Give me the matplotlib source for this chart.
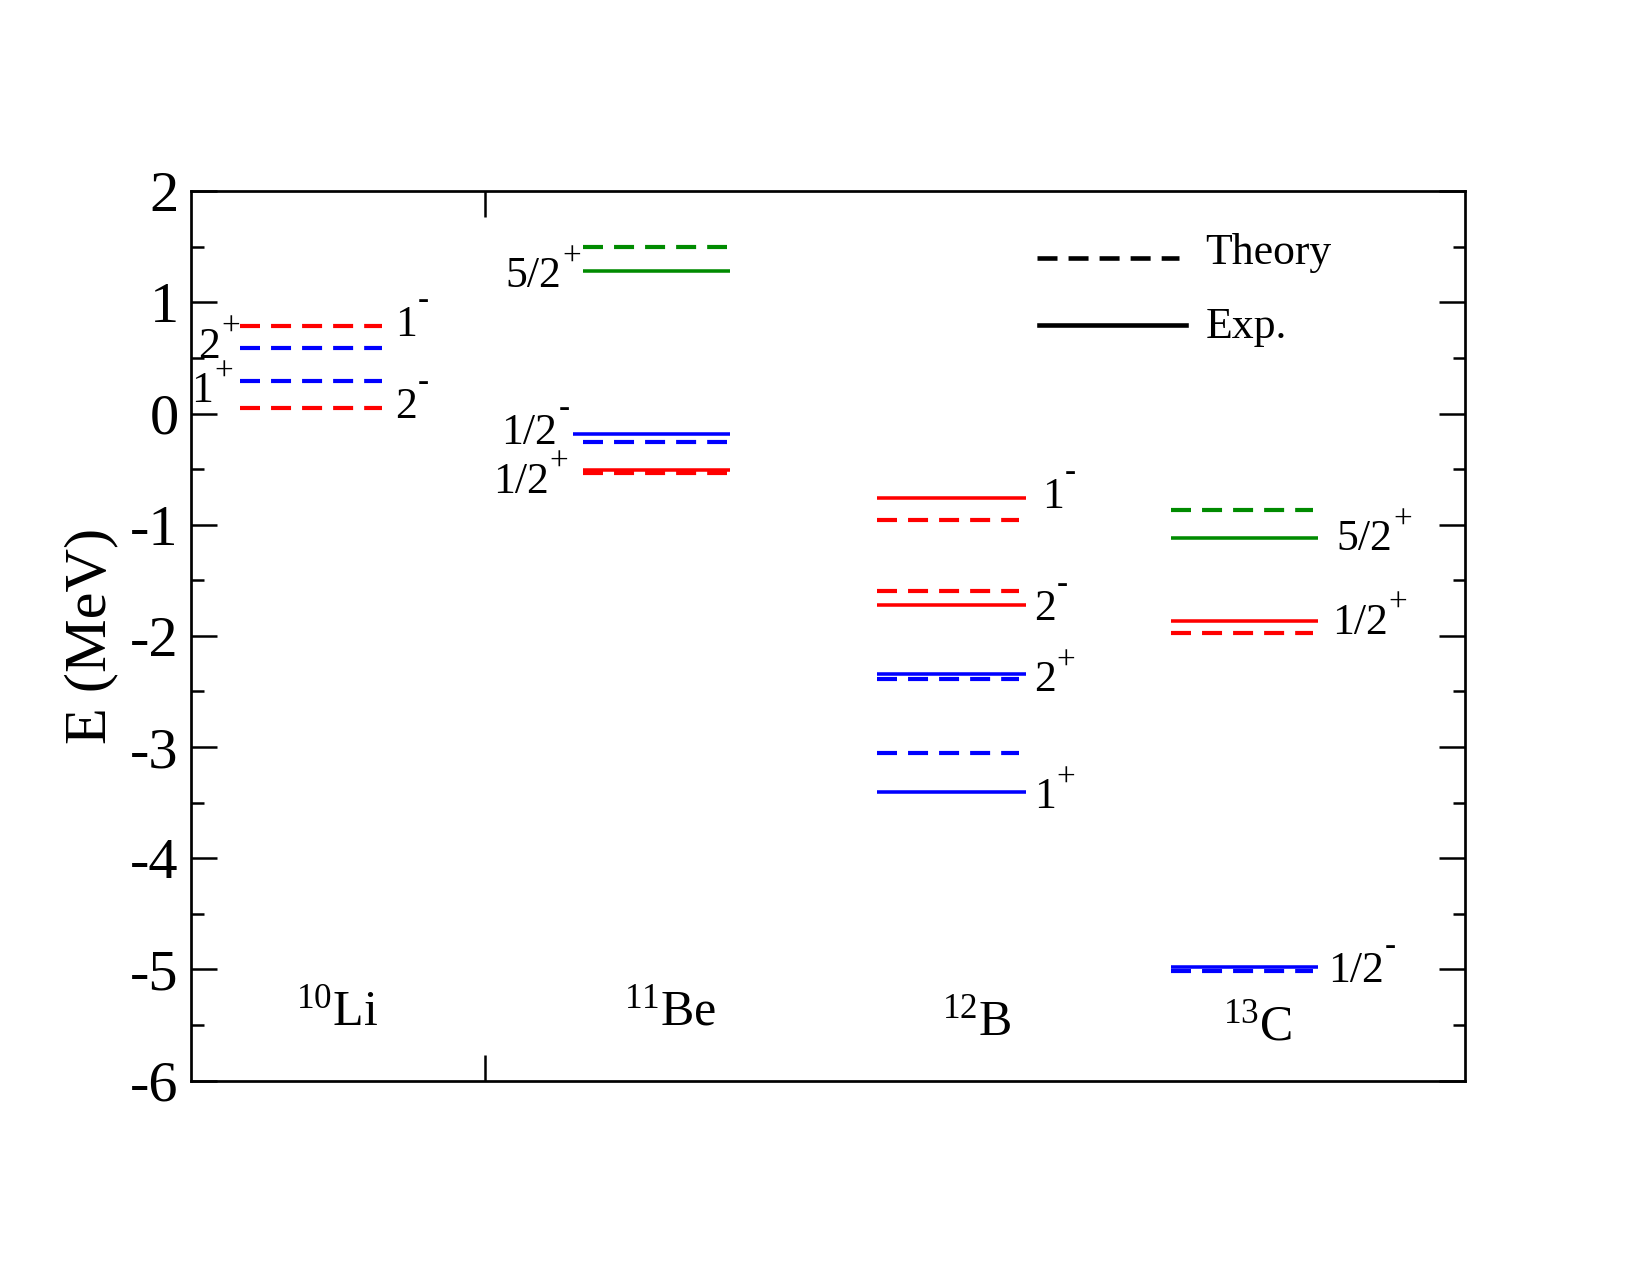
import matplotlib
matplotlib.use("Agg")
import matplotlib.pyplot as plt
from matplotlib.transforms import offset_copy

plt.rcParams['font.family'] = ['Liberation Serif', 'DejaVu Serif']
plt.rcParams['mathtext.fontset'] = 'custom'
plt.rcParams['mathtext.rm'] = 'Liberation Serif'
plt.rcParams['mathtext.it'] = 'Liberation Serif:italic'
plt.rcParams['mathtext.bf'] = 'Liberation Serif:bold'
plt.rcParams['axes.unicode_minus'] = False
plt.rcParams['lines.scale_dashes'] = False

# ---------------- data ----------------
nuclei = [r'$^{10}$Li', r'$^{11}$Be', r'$^{12}$B', r'$^{13}$C']

li_spin = ['1', '2', '1', '2']
li_parity = ['-', '+', '+', '-']
li_theory = [0.79, 0.59, 0.29, 0.05]
li_exp = [None, None, None, None]

be_spin = ['5/2', '1/2', '1/2']
be_parity = ['+', '-', '+']
be_theory = [1.50, -0.26, -0.535]
be_exp = [1.28, -0.18, -0.505]

b_spin = ['1', '2', '2', '1']
b_parity = ['-', '-', '+', '+']
b_theory = [-0.96, -1.60, -2.39, -3.05]
b_exp = [-0.76, -1.72, -2.34, -3.40]

c_spin = ['5/2', '1/2', '1/2']
c_parity = ['+', '+', '-']
c_theory = [-0.865, -1.97, -5.01]
c_exp = [-1.12, -1.87, -4.98]

y_ticks = [2, 1, 0, -1, -2, -3, -4, -5, -6]

# ---------------- styles / layout ----------------
RED, BLUE, GREEN = '#ff0000', '#0000ff', '#008b00'
li_colors = [RED, BLUE, BLUE, RED]
be_colors = [GREEN, BLUE, RED]
b_colors = [RED, RED, BLUE, BLUE]
c_colors = [GREEN, RED, BLUE]

li_span = (0.5, 1.95)
be_span = (4.0, 5.47)
be_exp_span = [(4.0, 5.5), (3.9, 5.5), (4.0, 5.5)]
b_span = (7.0, 8.45)
b_exp_span = (7.0, 8.52)
c_span = (10.0, 11.45)
c_exp_span = (10.0, 11.5)

DASH = (9.6, 5.3)
LW_D = 2.0
LW_S = 1.7
DPI = 150

fig = plt.figure(figsize=(11, 8.5), dpi=DPI)
ax = fig.add_axes([0.1158, 0.1525, 0.888 - 0.1158, 0.850 - 0.1525])
ax.set_xlim(0, 13)
ax.set_ylim(-6, 2)
renderer = fig.canvas.get_renderer()


def draw_theory(vals, cols, span):
    for v, c in zip(vals, cols):
        ax.plot(span, [v, v], color=c, lw=LW_D, dashes=DASH,
                dash_capstyle='butt')


def draw_exp(vals, cols, spans):
    for v, c, s in zip(vals, cols, spans):
        if v is None:
            continue
        ax.plot(s, [v, v], color=c, lw=LW_S, solid_capstyle='butt')


draw_theory(li_theory, li_colors, li_span)
draw_exp(be_exp, be_colors, be_exp_span)
draw_theory(be_theory, be_colors, be_span)
draw_exp(b_exp, b_colors, [b_exp_span] * 4)
draw_theory(b_theory, b_colors, b_span)
draw_exp(c_exp, c_colors, [c_exp_span] * 3)
draw_theory(c_theory, c_colors, c_span)

LFS = 21
SFS = 16


def level_label(x, y, spin, parity, ha):
    rise = 10.5 if parity == '+' else 13.0
    if ha == 'left':
        t = ax.text(x, y, spin, fontsize=LFS, ha='left', va='baseline')
        w = t.get_window_extent(renderer).width * 72.0 / DPI
        ax.text(x, y, parity, fontsize=SFS, ha='left', va='baseline',
                transform=offset_copy(ax.transData, fig=fig, x=w + 0.5, y=rise, units='points'))
    else:
        s = ax.text(x, y, parity, fontsize=SFS, ha='right', va='baseline',
                    transform=offset_copy(ax.transData, fig=fig, x=0, y=rise, units='points'))
        w = s.get_window_extent(renderer).width * 72.0 / DPI
        ax.text(x, y, spin, fontsize=LFS, ha='right', va='baseline',
                transform=offset_copy(ax.transData, fig=fig, x=-(w + 0.5), y=0, units='points'))


li_lab_pos = [(2.08, 0.70, 'left'), (0.50, 0.50, 'right'), (0.43, 0.10, 'right'), (2.08, -0.04, 'left')]
for sp, pa, (x, y, ha) in zip(li_spin, li_parity, li_lab_pos):
    level_label(x, y, sp, pa, ha)
be_lab_pos = [(3.98, 1.135), (3.86, -0.27), (3.85, -0.71)]
for sp, pa, (x, y) in zip(be_spin, be_parity, be_lab_pos):
    level_label(x, y, sp, pa, 'right')
b_lab_pos = [(8.68, -0.85), (8.60, -1.86), (8.60, -2.50), (8.60, -3.55)]
for sp, pa, (x, y) in zip(b_spin, b_parity, b_lab_pos):
    level_label(x, y, sp, pa, 'left')
c_lab_pos = [(11.69, -1.23), (11.64, -1.98), (11.60, -5.11)]
for sp, pa, (x, y) in zip(c_spin, c_parity, c_lab_pos):
    level_label(x, y, sp, pa, 'left')

nuc_pos = [(1.49, -5.50), (4.89, -5.50), (8.02, -5.59), (10.88, -5.63)]
for lab, (x, y) in zip(nuclei, nuc_pos):
    ax.text(x, y, lab, fontsize=24, ha='center', va='baseline')

# legend (manual)
ax.plot([8.63, 10.08], [1.40, 1.40], color='black', lw=2.2, dashes=DASH)
ax.plot([8.65, 10.15], [0.80, 0.80], color='black', lw=2.2)
ax.text(10.35, 1.35, 'Theory', fontsize=21, ha='left', va='baseline')
ax.text(10.35, 0.68, 'Exp.', fontsize=21, ha='left', va='baseline')

ax.set_yticks(y_ticks)
ax.set_yticklabels([str(t) for t in y_ticks])
ax.set_yticks([1.5, 0.5, -0.5, -1.5, -2.5, -3.5, -4.5, -5.5], minor=True)
ax.set_xticks([3])
ax.set_xticklabels([])
ax.tick_params(axis='y', which='major', direction='in', length=12.5, width=1.2,
               left=True, right=True, labelsize=28, pad=6)
ax.tick_params(axis='y', which='minor', direction='in', length=6, width=1.2,
               left=True, right=True)
ax.tick_params(axis='x', which='major', direction='in', length=12.5, width=1.2,
               top=True, bottom=True)
for s in ax.spines.values():
    s.set_linewidth(1.3)

ax.set_ylabel('E (MeV)', fontsize=29)
ax.yaxis.set_label_coords(-0.057, 0.5)

fig.savefig('out.png', dpi=DPI)
